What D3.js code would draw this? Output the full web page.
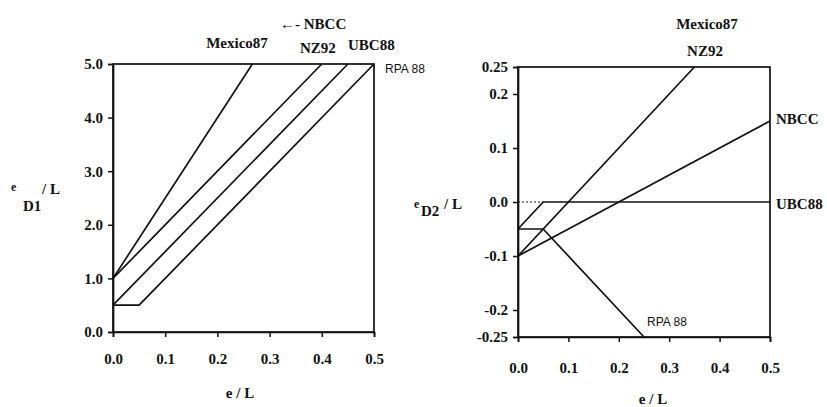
<!DOCTYPE html>
<html lang="en">
<head>
<meta charset="UTF-8">
<title>Eccentricity design provisions</title>
<script src="https://d3js.org/d3.v7.min.js"></script>
<style>
  body { margin: 0; background: #fff; }
  text { font-family: 'Liberation Serif', 'Times New Roman', serif; fill: #111; }
  .sans { font-family: 'Liberation Sans', Arial, sans-serif; }
</style>
</head>
<body>
<script>

    const width = 827;
    const height = 407;

    // x ticks shared by both panels
    const xTicks = [0, 0.1, 0.2, 0.3, 0.4, 0.5];
    const xTickLabels = ['0.0', '0.1', '0.2', '0.3', '0.4', '0.5'];

    // left panel: e_D1 / L
    const leftYTicks = [0, 1, 2, 3, 4, 5];
    const leftYTickLabels = ['0.0', '1.0', '2.0', '3.0', '4.0', '5.0'];
    const mexico87E = [0, 0.267];
    const mexico87D1 = [1.0, 5.0];
    const nz92E = [0, 0.4];
    const nz92D1 = [1.0, 5.0];
    const ubc88E = [0, 0.45];
    const ubc88D1 = [0.5, 5.0];
    const rpa88E = [0, 0.05, 0.5];
    const rpa88D1 = [0.5, 0.5, 5.0];

    // right panel: e_D2 / L
    const rightYTicks = [-0.25, -0.2, -0.1, 0, 0.1, 0.2, 0.25];
    const rightYTickLabels = ['-0.25', '-0.2', '-0.1', '0.0', '0.1', '0.2', '0.25'];
    const mexNzE = [0, 0.35];
    const mexNzD2 = [-0.1, 0.25];
    const nbccE = [0, 0.5];
    const nbccD2 = [-0.1, 0.15];
    const ubc88E2 = [0, 0.05, 0.5];
    const ubc88D2 = [-0.05, 0, 0];
    const rpa88E2 = [0, 0.05, 0.25];
    const rpa88D2 = [-0.05, -0.05, -0.25];
    const zeroE = [0, 0.05];
    const zeroD2 = [0, 0];

    const svg = d3.select("body").append("svg")
        .attr("width", width).attr("height", height);
    svg.append("rect").attr("width", width).attr("height", height).attr("fill", "#fff");

    function panel(cfg) {
        const x = d3.scaleLinear().domain([0, 0.5]).range(cfg.xr);
        const y = d3.scaleLinear().domain(cfg.yd).range(cfg.yr);
        const g = svg.append("g");

        // frame
        g.append("rect")
            .attr("x", cfg.xr[0]).attr("y", cfg.yr[1])
            .attr("width", cfg.xr[1] - cfg.xr[0]).attr("height", cfg.yr[0] - cfg.yr[1])
            .attr("fill", "none").attr("stroke", "#111").attr("stroke-width", 1.7);

        const xAxis = d3.axisBottom(x).tickValues(xTicks)
            .tickFormat((d, i) => xTickLabels[i]).tickSize(5).tickPadding(cfg.xPad);
        const gx = g.append("g").attr("transform", `translate(0,${cfg.yr[0]})`).call(xAxis);

        const yAxis = d3.axisLeft(y).tickValues(cfg.yTicks)
            .tickFormat((d, i) => cfg.yLabels[i]).tickSize(5).tickPadding(5);
        const gy = g.append("g").attr("transform", `translate(${cfg.xr[0]},0)`).call(yAxis);

        [gx, gy].forEach(a => {
            a.select(".domain").attr("stroke", "#111").attr("stroke-width", 1.7);
            a.selectAll(".tick line").attr("stroke", "#111").attr("stroke-width", 1.5);
            a.selectAll(".tick text")
                .style("font-family", "'Liberation Serif', serif")
                .style("font-size", "15px").style("font-weight", "bold").attr("fill", "#111");
        });

        const line = d3.line().x(d => x(d[0])).y(d => y(d[1]));
        cfg.series.forEach(s => {
            g.append("path")
                .datum(d3.zip(s.e, s.v))
                .attr("d", line)
                .attr("fill", "none")
                .attr("stroke", "#111")
                .attr("stroke-width", s.w || 1.7)
                .attr("stroke-dasharray", s.dash || null);
        });
        return { x, y, g };
    }

    const L = panel({
        xr: [113, 374], yr: [332, 64], yd: [0, 5],
        yTicks: leftYTicks, yLabels: leftYTickLabels, xPad: 16,
        series: [
            { e: mexico87E, v: mexico87D1 },
            { e: nz92E, v: nz92D1 },
            { e: ubc88E, v: ubc88D1 },
            { e: rpa88E, v: rpa88D1 }
        ]
    });

    const R = panel({
        xr: [518, 770], yr: [337, 67], yd: [-0.25, 0.25],
        yTicks: rightYTicks, yLabels: rightYTickLabels, xPad: 20,
        series: [
            { e: zeroE, v: zeroD2, w: 1, dash: "2,2" },
            { e: mexNzE, v: mexNzD2 },
            { e: nbccE, v: nbccD2 },
            { e: ubc88E2, v: ubc88D2 },
            { e: rpa88E2, v: rpa88D2 }
        ]
    });

    function label(txt, x, y, opts) {
        opts = opts || {};
        return svg.append("text")
            .attr("x", x).attr("y", y)
            .attr("text-anchor", opts.anchor || "start")
            .attr("class", opts.sans ? "sans" : null)
            .style("font-size", (opts.size || 15) + "px")
            .style("font-weight", opts.sans ? "normal" : "bold")
            .text(txt);
    }

    // left panel labels
    label("Mexico87", 237, 48, { anchor: "middle" });
    label("\u2190- NBCC", 280, 29);
    label("NZ92", 300, 53);
    label("UBC88", 348, 50);
    label("RPA 88", 385, 73, { sans: true, size: 12 });
    label("e / L", 240, 398, { anchor: "middle" });

    // left y-axis title e_D1 / L
    label("e", 11, 191, { size: 12 });
    label("D1", 23, 211);
    label("/ L", 42, 194);

    // right panel labels
    label("Mexico87", 707, 29, { anchor: "middle" });
    label("NZ92", 705, 56, { anchor: "middle" });
    label("NBCC", 776, 124);
    label("UBC88", 776, 209);
    label("RPA 88", 647, 326, { sans: true, size: 12 });
    label("e / L", 653, 404, { anchor: "middle" });

    // right y-axis title e_D2 / L
    label("e", 414, 208, { size: 12 });
    label("D2", 421, 216);
    label("/ L", 444, 209);

</script>
</body>
</html>
